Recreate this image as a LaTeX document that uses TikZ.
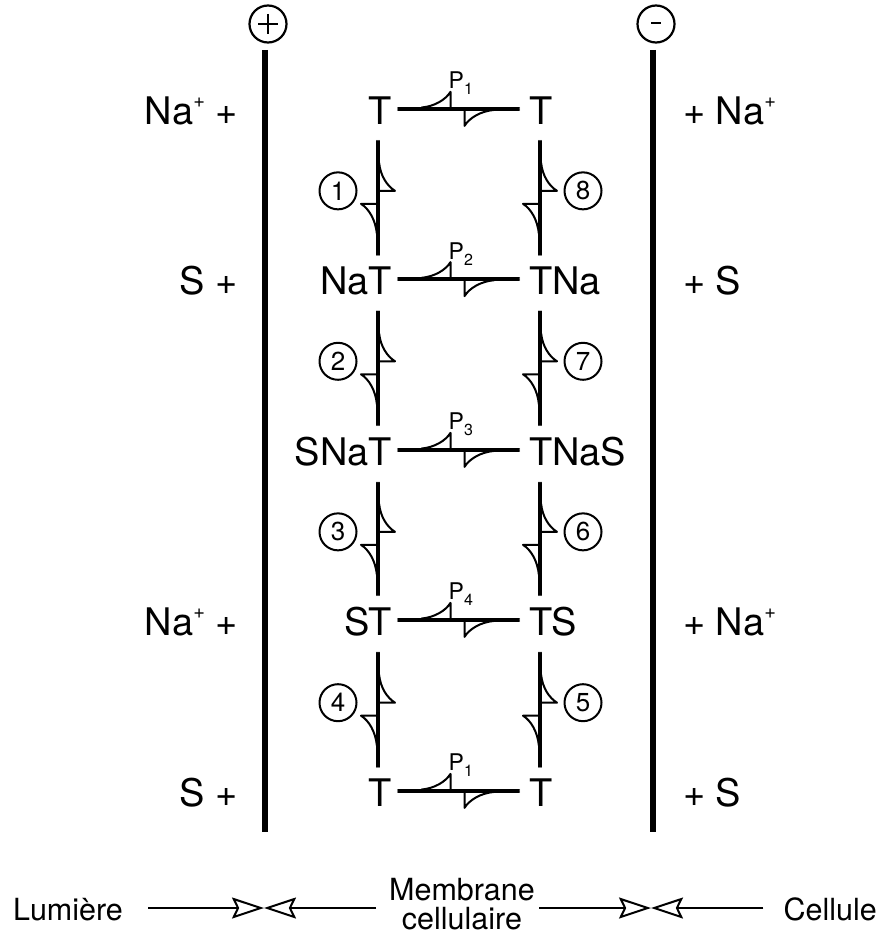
\documentclass[tikz,border=0pt]{standalone}
\usepackage{fontspec}
\setmainfont{TeX Gyre Heros}
\usetikzlibrary{calc,arrows.meta}
\newcommand\nasup{\raisebox{17pt}{\fontsize{20}{20}\selectfont +}}
\newcommand\psubs[1]{\raisebox{-6pt}{\fontsize{16}{16}\selectfont #1}}
\tikzset{
 spec/.style={inner sep=0pt, font=\fontsize{38}{40}\selectfont},
 lab/.style={inner sep=0pt, font=\fontsize{38}{40}\selectfont},
 eqline/.style={line width=2pt, line cap=round, line join=round},
 num/.style={circle, draw, line width=2pt, minimum size=37pt, inner sep=0pt, font=\fontsize{26}{26}\selectfont},
 plab/.style={inner sep=0pt, font=\fontsize{23}{23}\selectfont},
 bar/.style={line width=6.5pt},
 sign/.style={circle, draw, line width=2.2pt, minimum size=37pt, inner sep=0pt},
 foot/.style={inner sep=0pt, font=\fontsize{30.5}{31}\selectfont},
 bigarr/.style={line width=2pt, -{Stealth[open, length=32pt, width=21pt, inset=5pt]}},
}
% horizontal equilibrium: left node, right node, P index, label name
\newcommand\eqH[4]{%
  \draw[eqline] ($(#1.east)+(6,-3.3)$) -- ($(#2.west)+(-10,-3.3)$);
  \draw[eqline] ($(#1.east)+(6,-1)$) -- ($(#2.west)+(-10,-1)$);
  \begin{scope}[shift={($(#1.east)!0.5!(#2.west)$)}]
    \draw[eqline] (-10,-3.3) -- (-10,-19) .. controls (-15,-11) and (-26,-4.5) .. (-39,-3.3);
    \draw[eqline] (4,-1) -- (4,15) .. controls (9,7) and (20,0.3) .. (34,-1);
    \node[plab, anchor=base west] (#4) at (-12,-22) {P\psubs{#3}};
  \end{scope}}
% vertical equilibrium: upper node, lower node, column, number, circle offset, circle name
\newcommand\eqV[6]{%
  \draw[eqline] ($(#1.south -| #3)+(-1.1,16)$) -- ($(#2.north -| #3)+(-1.1,-12)$);
  \draw[eqline] ($(#1.south -| #3)+(1.1,16)$) -- ($(#2.north -| #3)+(1.1,-12)$);
  \begin{scope}[shift={($(#1.south -| #3)!0.5!(#2.north -| #3)$)}]
    \draw[eqline] (1.1,-5) -- (17,-5) .. controls (9,-10) and (2.5,-20) .. (1.1,-33);
    \draw[eqline] (-1.1,8) -- (-17,8) .. controls (-9,13) and (-2.5,24) .. (-1.1,38);
    \node[num] (#6) at (#5,-5) {#4};
  \end{scope}}
\begin{document}
\begin{tikzpicture}[x=1pt,y=-1pt]
\useasboundingbox (0,0) rectangle (884,936);
\fill[white] (0,0) rectangle (884,936);
% membrane signs and lines
\node[sign] (plus) at (268,24) {};
\draw[line width=2.4pt] ($(plus.center)+(-10,0)$) -- ($(plus.center)+(10,0)$)
  ($(plus.center)+(0,-10)$) -- ($(plus.center)+(0,10)$);
\node[sign] (minus) at (656,24) {};
\draw[line width=2.4pt] ($(minus.center)+(-5,-1)$) -- ($(minus.center)+(5,-1)$);
\draw[bar] (265,50) -- (265,832);
\draw[bar] (653,50) -- (653,832);
% columns
\coordinate (cL) at (378,0);
\coordinate (cR) at (540,0);
% species
\node[spec,anchor=base east] (L1) at (392,124.7) {T};
\node[spec,anchor=base west] (R1) at (529,124.7) {T};
\node[spec,anchor=base east] (L2) at (392,294.7) {NaT};
\node[spec,anchor=base west] (R2) at (529,294.7) {TNa};
\node[spec,anchor=base east] (L3) at (392,465.7) {SNaT};
\node[spec,anchor=base west] (R3) at (529,465.7) {TNaS};
\node[spec,anchor=base east] (L4) at (392,635.7) {ST};
\node[spec,anchor=base west] (R4) at (529,635.7) {TS};
\node[spec,anchor=base east] (L5) at (392,806.7) {T};
\node[spec,anchor=base west] (R5) at (529,806.7) {T};
% side labels
\node[lab,anchor=base east] (la1) at (238,124.7) {Na\nasup\ +};
\node[lab,anchor=base east] (la2) at (238,294.7) {S +};
\node[lab,anchor=base east] (la4) at (238,635.7) {Na\nasup\ +};
\node[lab,anchor=base east] (la5) at (238,806.7) {S +};
\node[lab,anchor=base west] (ra1) at (683,124.7) {+ Na\nasup};
\node[lab,anchor=base west] (ra2) at (683,294.7) {+ S};
\node[lab,anchor=base west] (ra4) at (683,635.7) {+ Na\nasup};
\node[lab,anchor=base west] (ra5) at (683,806.7) {+ S};
% horizontal equilibria
\eqH{L1}{R1}{1}{pa}
\eqH{L2}{R2}{2}{pb}
\eqH{L3}{R3}{3}{pc}
\eqH{L4}{R4}{4}{pd}
\eqH{L5}{R5}{1}{pe}
% vertical equilibria
\eqV{L1}{L2}{cL}{1}{-40}{n1}
\eqV{L2}{L3}{cL}{2}{-40}{n2}
\eqV{L3}{L4}{cL}{3}{-40}{n3}
\eqV{L4}{L5}{cL}{4}{-40}{n4}
\eqV{R1}{R2}{cR}{8}{43}{n8}
\eqV{R2}{R3}{cR}{7}{43}{n7}
\eqV{R3}{R4}{cR}{6}{43}{n6}
\eqV{R4}{R5}{cR}{5}{43}{n5}
% bottom legend
\node[foot,anchor=base west] (lum) at (13,920) {Lumière};
\node[foot,anchor=base] (mem1) at (462,900) {Membrane};
\node[foot,anchor=base] (mem2) at (462,929) {cellulaire};
\node[foot,anchor=base east] (cel) at (877,920) {Cellule};
\coordinate (meetL) at (264,908);
\coordinate (meetR) at (651,908);
\draw[bigarr, shorten <=25pt] (lum.east |- meetL) -- (meetL);
\draw[bigarr, shorten <=13pt] (mem1.west |- meetL) -- (meetL);
\draw[bigarr, shorten <=4pt] (mem1.east |- meetR) -- (meetR);
\draw[bigarr, shorten <=20pt] (cel.west |- meetR) -- (meetR);
\end{tikzpicture}
\end{document}
